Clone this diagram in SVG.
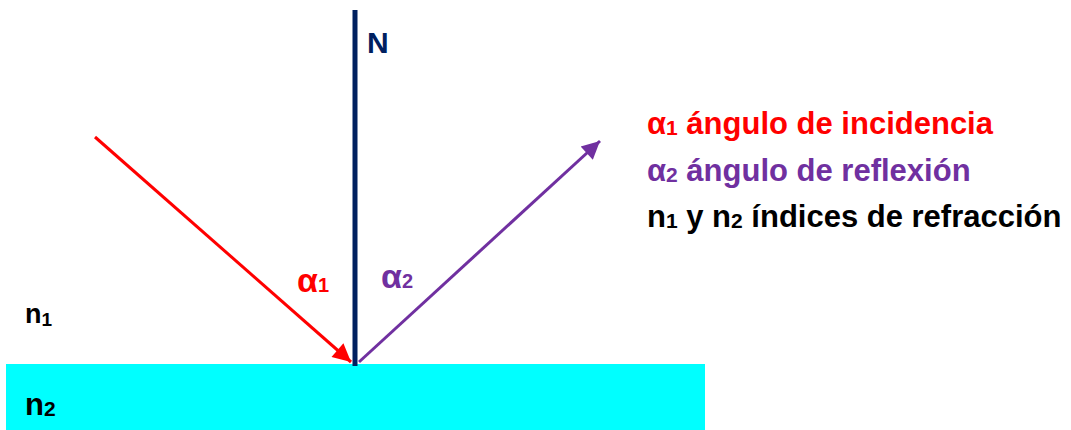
<svg xmlns="http://www.w3.org/2000/svg" width="1071" height="430" viewBox="0 0 1071 430">
<style>
text{font-family:"Liberation Sans",Arial,sans-serif;font-weight:bold}
.red{fill:#ff0000}.pur{fill:#7030a0}.blk{fill:#000000}.navy{fill:#002060}
</style>
<defs>
<marker id="ar" viewBox="0 0 10 10" refX="10" refY="5" markerWidth="8" markerHeight="6" orient="auto" markerUnits="strokeWidth"><path d="M0,0 L10,5 L0,10 z" fill="#ff0000"/></marker>
<marker id="ap" viewBox="0 0 10 10" refX="10" refY="5" markerWidth="7" markerHeight="6" orient="auto" markerUnits="strokeWidth"><path d="M0,0 L10,5 L0,10 z" fill="#7030a0"/></marker>
</defs>
<rect width="1071" height="430" fill="#ffffff"/>
<g id="medium2"><rect x="6" y="364" width="699" height="66" fill="#00ffff"/></g>
<g id="connectors">
<line x1="355" y1="10" x2="355" y2="366" stroke="#002060" stroke-width="5"/>
<line x1="95" y1="137" x2="351" y2="362" stroke="#ff0000" stroke-width="3" marker-end="url(#ar)"/>
<line x1="359" y1="362" x2="600" y2="141" stroke="#7030a0" stroke-width="3" marker-end="url(#ap)"/>
</g>
<g id="labels">
<text x="367" y="53" font-size="30" class="navy">N</text>
<text x="297" y="292" font-size="34" class="red">α<tspan font-size="20">1</tspan></text>
<text x="381" y="288" font-size="34" class="pur">α<tspan font-size="20">2</tspan></text>
<text x="25" y="323" font-size="27" class="blk">n<tspan font-size="19" dy="3">1</tspan></text>
<text x="25" y="415" font-size="31" class="blk">n<tspan font-size="21" dy="1">2</tspan></text>
</g>
<g id="legend">
<text x="647" y="134" font-size="31" class="red">α<tspan font-size="21" dy="1">1</tspan><tspan dy="-1"> ángulo de incidencia</tspan></text>
<text x="647" y="181" font-size="31" class="pur">α<tspan font-size="21" dy="1">2</tspan><tspan dy="-1"> ángulo de reflexión</tspan></text>
<text x="647" y="227" font-size="31" class="blk">n<tspan font-size="21" dy="1">1</tspan><tspan dy="-1"> y n</tspan><tspan font-size="21" dy="1">2</tspan><tspan dy="-1"> índices de refracción</tspan></text>
</g>
</svg>
